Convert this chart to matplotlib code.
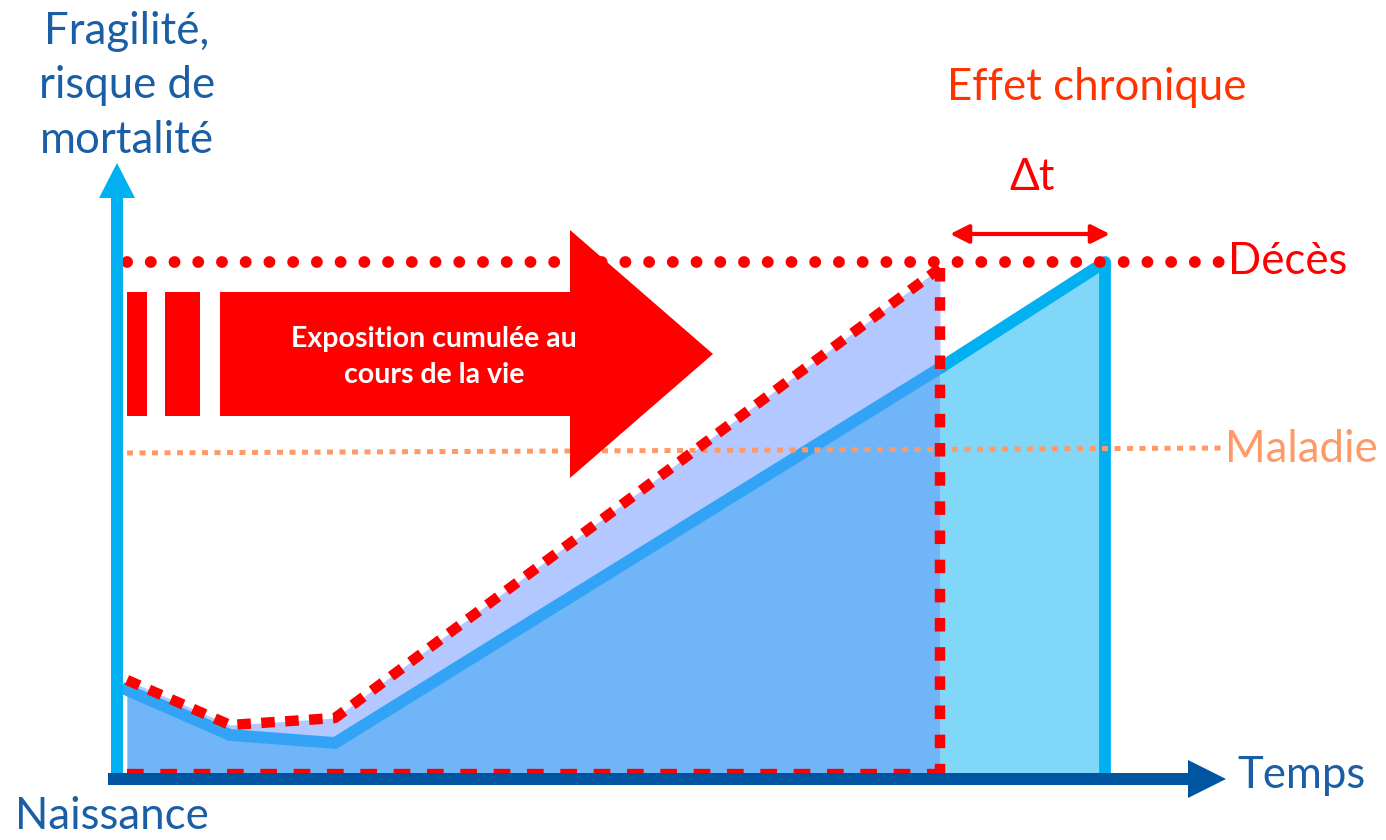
import matplotlib
matplotlib.use("Agg")
import matplotlib.pyplot as plt
import matplotlib.patches as mpatches

plt.rcParams['font.family'] = ['Lato', 'DejaVu Sans']

# time axis positions (px from left) and risk level (px above the time axis)
t_curve = [127, 230, 335, 940]
risk_base = [88, 43, 35, 410]          # blue curve, without exposure
risk_exposed = [98, 53, 60, 510]       # red dotted curve, with exposure
t_chronic = [940, 1105]
risk_chronic = [410, 516]              # blue curve continued up to death
death_level = 516
disease_level = [325, 330]
t_start, t_death_exposed, t_death_base = 127, 940, 1105

# red arrow "exposition cumulée"
arrow_x = [220, 570, 570, 713, 570, 570, 220]
arrow_y = [486, 486, 548, 424, 300, 362, 362]
bars_x = [(127, 147), (165, 200)]

blue_txt = '#1A5EA6'
red = '#FF0000'

fig = plt.figure(figsize=(13.86, 8.4), dpi=100)
ax = fig.add_axes([0, 0, 1, 1])
ax.set_xlim(0, 1386)
ax.set_ylim(-62, 778)
ax.axis('off')

# filled areas
ax.fill_between(t_curve, 0, risk_exposed, color='#B3C8FF', lw=0, zorder=1)
ax.fill_between(t_curve, 0, risk_base, color='#70B5F8', lw=0, zorder=2)
ax.fill_between(t_chronic, 0, risk_chronic, color='#80D7F8', lw=0, zorder=2)

# blue curve
ax.plot(t_curve, risk_base, color='#33A4F5', lw=8.5, solid_joinstyle='miter', zorder=3)
ax.plot(t_chronic + [t_death_base], risk_chronic + [0], color='#00B0F0', lw=8.5,
        solid_joinstyle='round', solid_capstyle='butt', zorder=3)

# death / disease thresholds
ax.plot([t_start, 1225], [death_level, death_level], color=red, lw=8.5,
        linestyle=(0, (0.01, 2.0)), dash_capstyle='round', zorder=4)
ax.plot([t_start, 1225], disease_level, color='#FF9966', lw=3.6,
        linestyle=(0, (1.2, 1.3)), zorder=4)

# exposed curve (red squares)
ax.plot(t_curve, risk_exposed, color=red, lw=7.5, linestyle=(0, (1.3, 1.0)), zorder=5)
ax.plot([t_death_exposed, t_death_exposed], [risk_exposed[-1], 3], color=red, lw=7.5,
        linestyle=(0, (1.3, 1.5)), zorder=5)
ax.plot([t_start, t_death_exposed], [5, 5], color=red, lw=6, linestyle=(0, (2.0, 2.0)), zorder=5)

# axes arrows
ax.arrow(117, 0, 0, 580, width=12, head_width=36, head_length=35, color='#00B0F0',
         length_includes_head=False, lw=0, zorder=6)
ax.arrow(108, -1, 1080, 0, width=12, head_width=38, head_length=38, color='#0055A0',
         lw=0, zorder=6)

# exposure arrow
ax.add_patch(mpatches.Polygon(list(zip(arrow_x, arrow_y)), closed=True, color=red, lw=0, zorder=7))
for x0, x1 in bars_x:
    ax.add_patch(mpatches.Rectangle((x0, 362), x1 - x0, 124, color=red, lw=0, zorder=7))
ax.text(434, 421, 'Exposition cumulée au\ncours de la vie', color='white', fontsize=20.5,
        fontweight='bold', ha='center', va='center', linespacing=1.45, zorder=8)

# delta t arrow
ax.annotate('', xy=(1110, 544), xytext=(950, 544),
            arrowprops=dict(arrowstyle='<|-|>', color=red, lw=3, mutation_scale=28,
                            shrinkA=0, shrinkB=0))

# labels
ax.text(127, 692, 'Fragilité,\nrisque de\nmortalité', color=blue_txt, fontsize=31.5,
        ha='center', va='center', linespacing=1.42)
ax.text(1097, 691, 'Effet chronique', color='#FF3300', fontsize=31.5, ha='center', va='center')
ax.text(1032, 600, 'Δt', color=red, fontsize=31.5, ha='center', va='center')
ax.text(1228, 516, 'Décès', color=red, fontsize=31.5, ha='left', va='center')
ax.text(1225, 328, 'Maladie', color='#FF9966', fontsize=31.5, ha='left', va='center')
ax.text(1237, 3, 'Temps', color=blue_txt, fontsize=31.5, ha='left', va='center')
ax.text(112, -59, 'Naissance', color=blue_txt, fontsize=31.5, ha='center', va='bottom')

fig.savefig('out.png', dpi=100)
